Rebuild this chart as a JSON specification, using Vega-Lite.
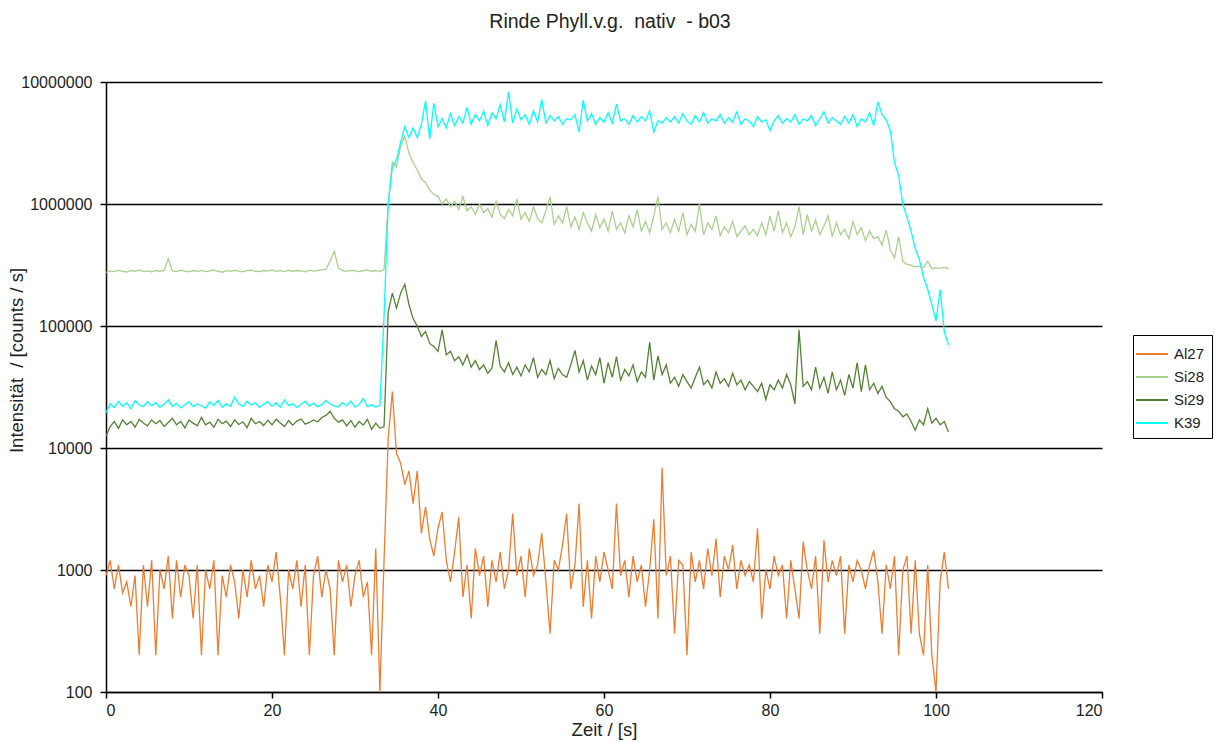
{
"$schema": "https://vega.github.io/schema/vega-lite/v6.json",
"width": 996,
"height": 610,
"autosize": {"type": "none"},
"padding": {"left": 106, "top": 82, "right": 113, "bottom": 50},
"background": "white",
"title": {"text": "Rinde Phyll.v.g.\u00a0 nativ\u00a0 - b03", "font": "Liberation Sans", "fontSize": 19.5, "fontWeight": "normal", "color": "#222222", "anchor": "middle", "offset": 42, "dx": 6},
"config": {"view": {"stroke": null}, "font": "Liberation Sans"},
"data": {"values": [
{"t":0,"Al27":900,"Si28":275000,"Si29":12500,"K39":19500},
{"t":0.5,"Al27":1200,"Si28":283000,"Si29":15000,"K39":23000},
{"t":1,"Al27":700,"Si28":279000,"Si29":16500,"K39":21500},
{"t":1.5,"Al27":1100,"Si28":286000,"Si29":14500,"K39":24000},
{"t":2,"Al27":650,"Si28":280000,"Si29":17000,"K39":22000},
{"t":2.5,"Al27":800,"Si28":277000,"Si29":15500,"K39":23500},
{"t":3,"Al27":500,"Si28":284000,"Si29":16500,"K39":21000},
{"t":3.5,"Al27":900,"Si28":281000,"Si29":14800,"K39":24500},
{"t":4,"Al27":200,"Si28":288000,"Si29":17200,"K39":22500},
{"t":4.5,"Al27":1100,"Si28":279000,"Si29":16000,"K39":21800},
{"t":5,"Al27":500,"Si28":283000,"Si29":15200,"K39":24000},
{"t":5.5,"Al27":1200,"Si28":278000,"Si29":17000,"K39":22200},
{"t":6,"Al27":200,"Si28":285000,"Si29":15800,"K39":23500},
{"t":6.5,"Al27":1000,"Si28":281000,"Si29":16800,"K39":21500},
{"t":7,"Al27":700,"Si28":286000,"Si29":15000,"K39":22800},
{"t":7.5,"Al27":1300,"Si28":355000,"Si29":16200,"K39":24800},
{"t":8,"Al27":400,"Si28":283000,"Si29":17500,"K39":22000},
{"t":8.5,"Al27":1200,"Si28":279000,"Si29":15500,"K39":23200},
{"t":9,"Al27":600,"Si28":287000,"Si29":16500,"K39":21300},
{"t":9.5,"Al27":1100,"Si28":282000,"Si29":14600,"K39":22600},
{"t":10,"Al27":900,"Si28":278000,"Si29":17000,"K39":24000},
{"t":10.5,"Al27":400,"Si28":285000,"Si29":16000,"K39":21800},
{"t":11,"Al27":1100,"Si28":280000,"Si29":15200,"K39":23000},
{"t":11.5,"Al27":200,"Si28":286000,"Si29":17800,"K39":22200},
{"t":12,"Al27":1000,"Si28":279000,"Si29":15500,"K39":21200},
{"t":12.5,"Al27":700,"Si28":283000,"Si29":16300,"K39":23800},
{"t":13,"Al27":1200,"Si28":288000,"Si29":14800,"K39":22400},
{"t":13.5,"Al27":200,"Si28":281000,"Si29":17200,"K39":24600},
{"t":14,"Al27":900,"Si28":276000,"Si29":15800,"K39":21600},
{"t":14.5,"Al27":600,"Si28":284000,"Si29":16600,"K39":23000},
{"t":15,"Al27":1100,"Si28":280000,"Si29":15000,"K39":22000},
{"t":15.5,"Al27":800,"Si28":286000,"Si29":17000,"K39":26000},
{"t":16,"Al27":400,"Si28":282000,"Si29":15600,"K39":23000},
{"t":16.5,"Al27":1000,"Si28":278000,"Si29":16400,"K39":21800},
{"t":17,"Al27":600,"Si28":284000,"Si29":14700,"K39":24200},
{"t":17.5,"Al27":1200,"Si28":287000,"Si29":17500,"K39":22500},
{"t":18,"Al27":700,"Si28":281000,"Si29":15800,"K39":23600},
{"t":18.5,"Al27":900,"Si28":279000,"Si29":16500,"K39":21500},
{"t":19,"Al27":500,"Si28":285000,"Si29":15300,"K39":22800},
{"t":19.5,"Al27":1100,"Si28":282000,"Si29":16900,"K39":24000},
{"t":20,"Al27":800,"Si28":288000,"Si29":15500,"K39":22000},
{"t":20.5,"Al27":1400,"Si28":280000,"Si29":17200,"K39":23400},
{"t":21,"Al27":600,"Si28":284000,"Si29":16000,"K39":21600},
{"t":21.5,"Al27":200,"Si28":279000,"Si29":15000,"K39":24800},
{"t":22,"Al27":1000,"Si28":286000,"Si29":16800,"K39":22300},
{"t":22.5,"Al27":700,"Si28":281000,"Si29":15400,"K39":23000},
{"t":23,"Al27":1200,"Si28":285000,"Si29":16600,"K39":21400},
{"t":23.5,"Al27":500,"Si28":283000,"Si29":17300,"K39":22800},
{"t":24,"Al27":1100,"Si28":278000,"Si29":15700,"K39":24200},
{"t":24.5,"Al27":200,"Si28":287000,"Si29":16200,"K39":22000},
{"t":25,"Al27":900,"Si28":282000,"Si29":17000,"K39":23300},
{"t":25.5,"Al27":1300,"Si28":285000,"Si29":16400,"K39":21800},
{"t":26,"Al27":600,"Si28":289000,"Si29":17800,"K39":22600},
{"t":26.5,"Al27":1000,"Si28":292000,"Si29":18500,"K39":24600},
{"t":27,"Al27":700,"Si28":340000,"Si29":20000,"K39":23000},
{"t":27.5,"Al27":200,"Si28":410000,"Si29":17500,"K39":22000},
{"t":28,"Al27":1200,"Si28":300000,"Si29":16300,"K39":21800},
{"t":28.5,"Al27":800,"Si28":284000,"Si29":17000,"K39":23500},
{"t":29,"Al27":1100,"Si28":280000,"Si29":15200,"K39":22200},
{"t":29.5,"Al27":500,"Si28":286000,"Si29":16800,"K39":24300},
{"t":30,"Al27":900,"Si28":283000,"Si29":14800,"K39":21600},
{"t":30.5,"Al27":1200,"Si28":279000,"Si29":16500,"K39":22800},
{"t":31,"Al27":600,"Si28":285000,"Si29":15400,"K39":25500},
{"t":31.5,"Al27":800,"Si28":288000,"Si29":17200,"K39":21800},
{"t":32,"Al27":200,"Si28":281000,"Si29":14200,"K39":22600},
{"t":32.5,"Al27":1500,"Si28":284000,"Si29":16000,"K39":21700},
{"t":33,"Al27":100,"Si28":280000,"Si29":14500,"K39":22300},
{"t":33.5,"Al27":1200,"Si28":290000,"Si29":15000,"K39":120000},
{"t":34,"Al27":12000,"Si28":1000000,"Si29":130000,"K39":1000000},
{"t":34.5,"Al27":29000,"Si28":2200000,"Si29":186000,"K39":2000000},
{"t":35,"Al27":9000,"Si28":2000000,"Si29":140000,"K39":2300000},
{"t":35.5,"Al27":7500,"Si28":3000000,"Si29":186000,"K39":3200000},
{"t":36,"Al27":5000,"Si28":3600000,"Si29":220000,"K39":4300000},
{"t":36.5,"Al27":6500,"Si28":2600000,"Si29":150000,"K39":3500000},
{"t":37,"Al27":3500,"Si28":2200000,"Si29":115000,"K39":4200000},
{"t":37.5,"Al27":6500,"Si28":1900000,"Si29":100000,"K39":3500000},
{"t":38,"Al27":2000,"Si28":1600000,"Si29":82000,"K39":4500000},
{"t":38.5,"Al27":3300,"Si28":1500000,"Si29":90000,"K39":7000000},
{"t":39,"Al27":1800,"Si28":1300000,"Si29":72000,"K39":3400000},
{"t":39.5,"Al27":1300,"Si28":1200000,"Si29":68000,"K39":6700000},
{"t":40,"Al27":2200,"Si28":1150000,"Si29":62000,"K39":4300000},
{"t":40.5,"Al27":3000,"Si28":1000000,"Si29":93000,"K39":5000000},
{"t":41,"Al27":1200,"Si28":1100000,"Si29":58000,"K39":4200000},
{"t":41.5,"Al27":800,"Si28":950000,"Si29":62000,"K39":5500000},
{"t":42,"Al27":1400,"Si28":1050000,"Si29":52000,"K39":4400000},
{"t":42.5,"Al27":2700,"Si28":900000,"Si29":56000,"K39":5200000},
{"t":43,"Al27":600,"Si28":1150000,"Si29":48000,"K39":4600000},
{"t":43.5,"Al27":1100,"Si28":880000,"Si29":58000,"K39":6200000},
{"t":44,"Al27":400,"Si28":950000,"Si29":46000,"K39":4500000},
{"t":44.5,"Al27":1500,"Si28":820000,"Si29":52000,"K39":5400000},
{"t":45,"Al27":900,"Si28":1000000,"Si29":44000,"K39":4800000},
{"t":45.5,"Al27":1300,"Si28":850000,"Si29":48000,"K39":5800000},
{"t":46,"Al27":500,"Si28":920000,"Si29":41000,"K39":4400000},
{"t":46.5,"Al27":1200,"Si28":780000,"Si29":45000,"K39":5600000},
{"t":47,"Al27":800,"Si28":1050000,"Si29":76000,"K39":5000000},
{"t":47.5,"Al27":1400,"Si28":820000,"Si29":47000,"K39":6500000},
{"t":48,"Al27":700,"Si28":760000,"Si29":42000,"K39":4700000},
{"t":48.5,"Al27":1000,"Si28":900000,"Si29":50000,"K39":8300000},
{"t":49,"Al27":2900,"Si28":800000,"Si29":40000,"K39":4600000},
{"t":49.5,"Al27":900,"Si28":1100000,"Si29":46000,"K39":6000000},
{"t":50,"Al27":1300,"Si28":750000,"Si29":39000,"K39":4900000},
{"t":50.5,"Al27":600,"Si28":850000,"Si29":48000,"K39":5400000},
{"t":51,"Al27":1500,"Si28":720000,"Si29":42000,"K39":4500000},
{"t":51.5,"Al27":900,"Si28":950000,"Si29":55000,"K39":5800000},
{"t":52,"Al27":1100,"Si28":760000,"Si29":38000,"K39":4700000},
{"t":52.5,"Al27":2000,"Si28":700000,"Si29":44000,"K39":7200000},
{"t":53,"Al27":800,"Si28":880000,"Si29":40000,"K39":4600000},
{"t":53.5,"Al27":300,"Si28":1150000,"Si29":52000,"K39":5300000},
{"t":54,"Al27":1200,"Si28":680000,"Si29":37000,"K39":4800000},
{"t":54.5,"Al27":1000,"Si28":800000,"Si29":45000,"K39":5200000},
{"t":55,"Al27":1600,"Si28":700000,"Si29":40000,"K39":4500000},
{"t":55.5,"Al27":2900,"Si28":950000,"Si29":38000,"K39":5000000},
{"t":56,"Al27":700,"Si28":650000,"Si29":48000,"K39":4900000},
{"t":56.5,"Al27":1100,"Si28":780000,"Si29":63000,"K39":5400000},
{"t":57,"Al27":3500,"Si28":620000,"Si29":42000,"K39":3900000},
{"t":57.5,"Al27":500,"Si28":850000,"Si29":52000,"K39":7100000},
{"t":58,"Al27":1200,"Si28":700000,"Si29":36000,"K39":4800000},
{"t":58.5,"Al27":400,"Si28":600000,"Si29":47000,"K39":5500000},
{"t":59,"Al27":1300,"Si28":820000,"Si29":40000,"K39":4500000},
{"t":59.5,"Al27":800,"Si28":640000,"Si29":55000,"K39":5100000},
{"t":60,"Al27":1400,"Si28":750000,"Si29":34000,"K39":4700000},
{"t":60.5,"Al27":1000,"Si28":600000,"Si29":50000,"K39":5600000},
{"t":61,"Al27":700,"Si28":880000,"Si29":38000,"K39":4600000},
{"t":61.5,"Al27":3500,"Si28":620000,"Si29":56000,"K39":6600000},
{"t":62,"Al27":900,"Si28":700000,"Si29":36000,"K39":4800000},
{"t":62.5,"Al27":1200,"Si28":580000,"Si29":44000,"K39":5000000},
{"t":63,"Al27":600,"Si28":800000,"Si29":39000,"K39":4500000},
{"t":63.5,"Al27":1300,"Si28":650000,"Si29":48000,"K39":5300000},
{"t":64,"Al27":800,"Si28":900000,"Si29":35000,"K39":4700000},
{"t":64.5,"Al27":1100,"Si28":600000,"Si29":42000,"K39":5200000},
{"t":65,"Al27":500,"Si28":720000,"Si29":38000,"K39":4800000},
{"t":65.5,"Al27":1000,"Si28":580000,"Si29":74000,"K39":5800000},
{"t":66,"Al27":2600,"Si28":800000,"Si29":36000,"K39":3900000},
{"t":66.5,"Al27":400,"Si28":1150000,"Si29":57000,"K39":4800000},
{"t":67,"Al27":6900,"Si28":620000,"Si29":40000,"K39":4600000},
{"t":67.5,"Al27":900,"Si28":700000,"Si29":48000,"K39":5100000},
{"t":68,"Al27":1300,"Si28":580000,"Si29":34000,"K39":4700000},
{"t":68.5,"Al27":300,"Si28":750000,"Si29":38000,"K39":5200000},
{"t":69,"Al27":1200,"Si28":600000,"Si29":32000,"K39":4600000},
{"t":69.5,"Al27":1100,"Si28":850000,"Si29":40000,"K39":5500000},
{"t":70,"Al27":200,"Si28":560000,"Si29":35000,"K39":4800000},
{"t":70.5,"Al27":1400,"Si28":680000,"Si29":31000,"K39":4500000},
{"t":71,"Al27":800,"Si28":600000,"Si29":38000,"K39":5300000},
{"t":71.5,"Al27":1200,"Si28":1000000,"Si29":46000,"K39":4700000},
{"t":72,"Al27":700,"Si28":560000,"Si29":33000,"K39":5600000},
{"t":72.5,"Al27":1500,"Si28":700000,"Si29":36000,"K39":4600000},
{"t":73,"Al27":900,"Si28":620000,"Si29":31000,"K39":5000000},
{"t":73.5,"Al27":1800,"Si28":800000,"Si29":42000,"K39":4800000},
{"t":74,"Al27":600,"Si28":550000,"Si29":34000,"K39":5400000},
{"t":74.5,"Al27":1300,"Si28":650000,"Si29":37000,"K39":4600000},
{"t":75,"Al27":1000,"Si28":580000,"Si29":32000,"K39":5100000},
{"t":75.5,"Al27":1600,"Si28":720000,"Si29":41000,"K39":4700000},
{"t":76,"Al27":700,"Si28":540000,"Si29":33000,"K39":5700000},
{"t":76.5,"Al27":1200,"Si28":600000,"Si29":36000,"K39":4500000},
{"t":77,"Al27":900,"Si28":660000,"Si29":30000,"K39":5000000},
{"t":77.5,"Al27":1100,"Si28":560000,"Si29":35000,"K39":4800000},
{"t":78,"Al27":800,"Si28":620000,"Si29":32000,"K39":4300000},
{"t":78.5,"Al27":2200,"Si28":550000,"Si29":29000,"K39":5200000},
{"t":79,"Al27":400,"Si28":700000,"Si29":34000,"K39":4700000},
{"t":79.5,"Al27":1000,"Si28":560000,"Si29":25000,"K39":4900000},
{"t":80,"Al27":700,"Si28":800000,"Si29":33000,"K39":4000000},
{"t":80.5,"Al27":1300,"Si28":600000,"Si29":30000,"K39":4800000},
{"t":81,"Al27":900,"Si28":880000,"Si29":36000,"K39":5300000},
{"t":81.5,"Al27":1100,"Si28":580000,"Si29":31000,"K39":4600000},
{"t":82,"Al27":400,"Si28":700000,"Si29":40000,"K39":5000000},
{"t":82.5,"Al27":1200,"Si28":540000,"Si29":33000,"K39":4700000},
{"t":83,"Al27":700,"Si28":650000,"Si29":23000,"K39":5400000},
{"t":83.5,"Al27":400,"Si28":950000,"Si29":93000,"K39":4500000},
{"t":84,"Al27":1700,"Si28":560000,"Si29":32000,"K39":5000000},
{"t":84.5,"Al27":1000,"Si28":820000,"Si29":35000,"K39":4800000},
{"t":85,"Al27":700,"Si28":600000,"Si29":30000,"K39":5300000},
{"t":85.5,"Al27":1300,"Si28":740000,"Si29":46000,"K39":4400000},
{"t":86,"Al27":300,"Si28":560000,"Si29":31000,"K39":5000000},
{"t":86.5,"Al27":1750,"Si28":660000,"Si29":38000,"K39":5700000},
{"t":87,"Al27":800,"Si28":800000,"Si29":28000,"K39":4600000},
{"t":87.5,"Al27":1200,"Si28":540000,"Si29":42000,"K39":5100000},
{"t":88,"Al27":900,"Si28":700000,"Si29":30000,"K39":4800000},
{"t":88.5,"Al27":1300,"Si28":560000,"Si29":36000,"K39":4500000},
{"t":89,"Al27":300,"Si28":620000,"Si29":27000,"K39":5200000},
{"t":89.5,"Al27":1100,"Si28":520000,"Si29":40000,"K39":4600000},
{"t":90,"Al27":800,"Si28":720000,"Si29":31000,"K39":5400000},
{"t":90.5,"Al27":1200,"Si28":560000,"Si29":50000,"K39":4300000},
{"t":91,"Al27":1000,"Si28":640000,"Si29":29000,"K39":5000000},
{"t":91.5,"Al27":700,"Si28":500000,"Si29":48000,"K39":4700000},
{"t":92,"Al27":1100,"Si28":600000,"Si29":30000,"K39":5600000},
{"t":92.5,"Al27":1450,"Si28":520000,"Si29":34000,"K39":4400000},
{"t":93,"Al27":800,"Si28":540000,"Si29":28000,"K39":6900000},
{"t":93.5,"Al27":300,"Si28":460000,"Si29":32000,"K39":5400000},
{"t":94,"Al27":1100,"Si28":610000,"Si29":26000,"K39":4900000},
{"t":94.5,"Al27":700,"Si28":420000,"Si29":24000,"K39":4000000},
{"t":95,"Al27":1300,"Si28":360000,"Si29":21000,"K39":2200000},
{"t":95.5,"Al27":200,"Si28":540000,"Si29":20000,"K39":1700000},
{"t":96,"Al27":1000,"Si28":340000,"Si29":18000,"K39":1000000},
{"t":96.5,"Al27":1300,"Si28":320000,"Si29":19000,"K39":780000},
{"t":97,"Al27":300,"Si28":315000,"Si29":16500,"K39":600000},
{"t":97.5,"Al27":1200,"Si28":305000,"Si29":14000,"K39":430000},
{"t":98,"Al27":300,"Si28":310000,"Si29":17000,"K39":350000},
{"t":98.5,"Al27":200,"Si28":300000,"Si29":15500,"K39":250000},
{"t":99,"Al27":1100,"Si28":340000,"Si29":21000,"K39":200000},
{"t":99.5,"Al27":200,"Si28":295000,"Si29":16000,"K39":150000},
{"t":100,"Al27":100,"Si28":300000,"Si29":17500,"K39":110000},
{"t":100.5,"Al27":800,"Si28":297000,"Si29":15500,"K39":200000},
{"t":101,"Al27":1400,"Si28":302000,"Si29":16500,"K39":90000},
{"t":101.5,"Al27":700,"Si28":296000,"Si29":13500,"K39":70000}
]},
"transform": [{"fold": ["Al27", "Si28", "Si29", "K39"], "as": ["series", "value"]}],
"mark": {"type": "line", "strokeWidth": 1.3, "clip": true},
"encoding": {
"x": {"field": "t", "type": "quantitative",
 "scale": {"domain": [0, 120], "nice": false, "zero": false},
 "axis": {"values": [0, 20, 40, 60, 80, 100, 120], "grid": false, "domainColor": "#000000", "domainWidth": 1.5, "tickColor": "#000000", "tickSize": 6, "tickWidth": 1.5, "labelFont": "Liberation Sans", "labelFontSize": 16, "labelColor": "#222222", "labelPadding": 4, "title": "Zeit / [s]", "titleFont": "Liberation Sans", "titleFontSize": 18.5, "titleFontWeight": "normal", "titleColor": "#222222", "titleY": 28, "titleBaseline": "top"}},
"y": {"field": "value", "type": "quantitative",
 "scale": {"type": "log", "domain": [100, 10000000], "nice": false},
 "axis": {"values": [100, 1000, 10000, 100000, 1000000, 10000000], "format": "d", "grid": true, "gridColor": "#000000", "gridWidth": 1.3, "domainColor": "#000000", "domainWidth": 1.5, "tickColor": "#000000", "tickSize": 6, "tickWidth": 1.5, "labelFont": "Liberation Sans", "labelFontSize": 16, "labelColor": "#222222", "labelPadding": 8, "title": "Intensität\u00a0 / [counts / s]", "titleFont": "Liberation Sans", "titleFontSize": 18.5, "titleFontWeight": "normal", "titleColor": "#222222", "titleX": -80, "titleY": 278, "titleAngle": -90, "titleAlign": "center", "titleBaseline": "bottom"}},
"color": {"field": "series", "type": "nominal",
 "scale": {"domain": ["Al27", "Si28", "Si29", "K39"], "range": ["#ED7D31", "#A9D18E", "#548235", "#00FFFF"]},
 "legend": {"title": null, "orient": "none", "legendX": 1027, "legendY": 253, "strokeColor": "#000000", "padding": 7, "symbolType": "M-1.45,0H1.45", "symbolSize": 484, "symbolStrokeWidth": 2, "labelFont": "Liberation Sans", "labelFontSize": 15, "labelColor": "#222222", "rowPadding": 3, "labelOffset": 10}}
}
}
